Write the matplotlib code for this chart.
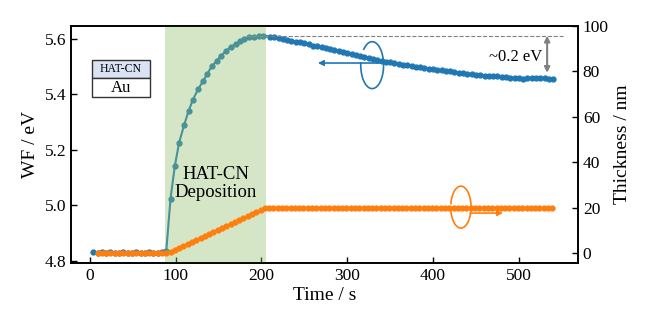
import matplotlib
matplotlib.use('Agg')
import matplotlib.pyplot as plt
from matplotlib.patches import Arc, Rectangle

plt.rcParams['font.family'] = ['Liberation Serif', 'DejaVu Serif']

# work function (left axis)
wf_time = [4, 9, 14, 19, 24, 29, 34, 39, 44, 49, 54, 59, 64, 69, 74, 79, 84,
           89, 94, 99, 104, 110, 115, 120, 126, 132, 137, 142, 148, 153, 159,
           164, 170, 175, 180, 186, 191, 197, 202,
           210, 215, 220, 225, 230, 235, 240, 245, 250, 255, 260, 265, 270,
           275, 280, 285, 290, 295, 300, 305, 310, 315, 320, 325, 330, 335,
           340, 345, 350, 355, 360, 365, 370, 375, 380, 385, 390, 395, 400,
           405, 410, 415, 420, 425, 430, 435, 440, 445, 450, 455, 460, 465,
           470, 475, 480, 485, 490, 495, 500, 505, 510, 515, 520, 525, 530,
           535, 540]
wf = [4.832, 4.830, 4.831, 4.830, 4.831, 4.830, 4.830, 4.831, 4.830, 4.830,
      4.831, 4.830, 4.830, 4.831, 4.830, 4.830, 4.831,
      4.836, 5.025, 5.142, 5.226, 5.291, 5.339, 5.380, 5.417, 5.448, 5.474,
      5.500, 5.521, 5.539, 5.556, 5.569, 5.581, 5.590, 5.597, 5.604, 5.607,
      5.609, 5.610,
      5.607, 5.604, 5.601, 5.598, 5.595, 5.592, 5.589, 5.586, 5.583, 5.579,
      5.575, 5.572, 5.568, 5.565, 5.562, 5.559, 5.555, 5.552, 5.548, 5.545,
      5.541, 5.538, 5.534, 5.531, 5.527, 5.524, 5.520, 5.517, 5.514, 5.512,
      5.509, 5.506, 5.504, 5.502, 5.499, 5.497, 5.495, 5.492, 5.490, 5.488,
      5.486, 5.484, 5.482, 5.480, 5.477, 5.475, 5.473, 5.472, 5.470, 5.469,
      5.467, 5.466, 5.465, 5.464, 5.462, 5.461, 5.460, 5.459, 5.458, 5.456,
      5.457, 5.458, 5.458, 5.459, 5.459, 5.456, 5.453]

# thickness (right axis)
th_time = [9, 14, 19, 24, 29, 34, 39, 44, 49, 54, 59, 64, 69, 74, 79, 84, 89,
           94, 99, 104, 109, 114, 119, 124, 129, 134, 139, 144, 149, 154, 159,
           164, 169, 174, 179, 184, 189, 194, 199, 204,
           209, 214, 219, 224, 229, 234, 239, 244, 249, 254, 259, 264, 269,
           274, 279, 284, 289, 294, 299, 304, 309, 314, 319, 324, 329, 334,
           339, 344, 349, 354, 359, 364, 369, 374, 379, 384, 389, 394, 399,
           404, 409, 414, 419, 424, 429, 434, 439, 444, 449, 454, 459, 464,
           469, 474, 479, 484, 489, 494, 499, 504, 509, 514, 519, 524, 529,
           534, 539]
th = [0, 0, 0, 0, 0, 0, 0, 0, 0, 0, 0, 0, 0, 0, 0, 0, 0,
      0.6, 1.5, 2.4, 3.2, 4.1, 5.0, 5.8, 6.7, 7.6, 8.4, 9.3, 10.2, 11.0, 11.9,
      12.8, 13.6, 14.5, 15.4, 16.2, 17.1, 18.0, 18.8, 19.7,
      20, 20, 20, 20, 20, 20, 20, 20, 20, 20, 20, 20, 20, 20, 20, 20, 20,
      20, 20, 20, 20, 20, 20, 20, 20, 20, 20, 20, 20, 20, 20, 20, 20, 20,
      20, 20, 20, 20, 20, 20, 20, 20, 20, 20, 20, 20, 20, 20, 20, 20, 20,
      20, 20, 20, 20, 20, 20, 20, 20, 20, 20, 20, 20, 20, 20, 20, 20]

dep_start, dep_end = 88, 205
blue = '#1f77b4'
orange = '#ff7f0e'

fig = plt.figure(figsize=(6.54, 3.28), dpi=100)
ax = fig.add_axes([0.1086, 0.198, 0.7752, 0.7226])
ax2 = ax.twinx()

ax.plot(wf_time, wf, '-o', color=blue, ms=3.5, lw=1.5, zorder=2)
ax.axvspan(dep_start, dep_end, color='#8fbf6a', alpha=0.38, lw=0, zorder=3)
ax2.plot(th_time, th, '-o', color=orange, ms=3.5, lw=1.5)

ax.set_xlim(-22, 569)
ax.set_ylim(4.793, 5.645)
ax2.set_ylim(-4.4, 100)
ax.set_xticks([0, 100, 200, 300, 400, 500])
ax.set_yticks([4.8, 5.0, 5.2, 5.4, 5.6])
ax2.set_yticks([0, 20, 40, 60, 80, 100])

ax.set_xlabel('Time / s', fontsize=14, labelpad=2)
ax.set_ylabel('WF / eV', fontsize=14)
ax2.set_ylabel('Thickness / nm', fontsize=14)
for a in (ax, ax2):
    a.tick_params(direction='in', labelsize=12.5, width=1, length=4)
    for s in a.spines.values():
        s.set_linewidth(1.2)

# ~0.2 eV shift marker
peak = max(wf)
ax.hlines(peak, 183, 552, colors='gray', linestyles='--', lw=0.8)
ax.annotate('', xy=(533, peak), xytext=(533, 5.477),
            arrowprops=dict(arrowstyle='<|-|>', color='gray', lw=1.5,
                            mutation_scale=8, shrinkA=0, shrinkB=0))
ax.text(496, 5.535, '~0.2 eV', fontsize=12, ha='center', va='center')

ax.text((dep_start + dep_end) / 2, 5.08, 'HAT-CN\nDeposition', fontsize=13.5,
        ha='center', va='center', linespacing=1.1, zorder=5)

# layer stack sketch
ax.add_patch(Rectangle((0.041, 0.781), 0.115, 0.076, transform=ax.transAxes,
                       fc='#dae3f3', ec='#333333', lw=1, zorder=6))
ax.add_patch(Rectangle((0.041, 0.700), 0.115, 0.081, transform=ax.transAxes,
                       fc='white', ec='#333333', lw=1, zorder=6))
ax.text(0.0985, 0.819, 'HAT-CN', transform=ax.transAxes, fontsize=8.5,
        ha='center', va='center', zorder=7)
ax.text(0.0985, 0.740, 'Au', transform=ax.transAxes, fontsize=12,
        ha='center', va='center', zorder=7)

# axis-pointing rotation symbols
ax.add_patch(Arc((0.594, 0.835), 0.045, 0.198, theta1=150, theta2=105,
                 transform=ax.transAxes, color=blue, lw=1.2, zorder=6))
ax.annotate('', xy=(0.487, 0.844), xytext=(0.615, 0.844), xycoords='axes fraction',
            arrowprops=dict(arrowstyle='-|>', color=blue, lw=1.2,
                            mutation_scale=8, shrinkA=0, shrinkB=0))
ax.add_patch(Arc((0.769, 0.236), 0.040, 0.177, theta1=212, theta2=150,
                 transform=ax.transAxes, color=orange, lw=1.2, zorder=6))
ax.annotate('', xy=(0.852, 0.211), xytext=(0.787, 0.211), xycoords='axes fraction',
            arrowprops=dict(arrowstyle='-|>', color=orange, lw=1.2,
                            mutation_scale=8, shrinkA=0, shrinkB=0))

fig.savefig('out.png', dpi=100)
